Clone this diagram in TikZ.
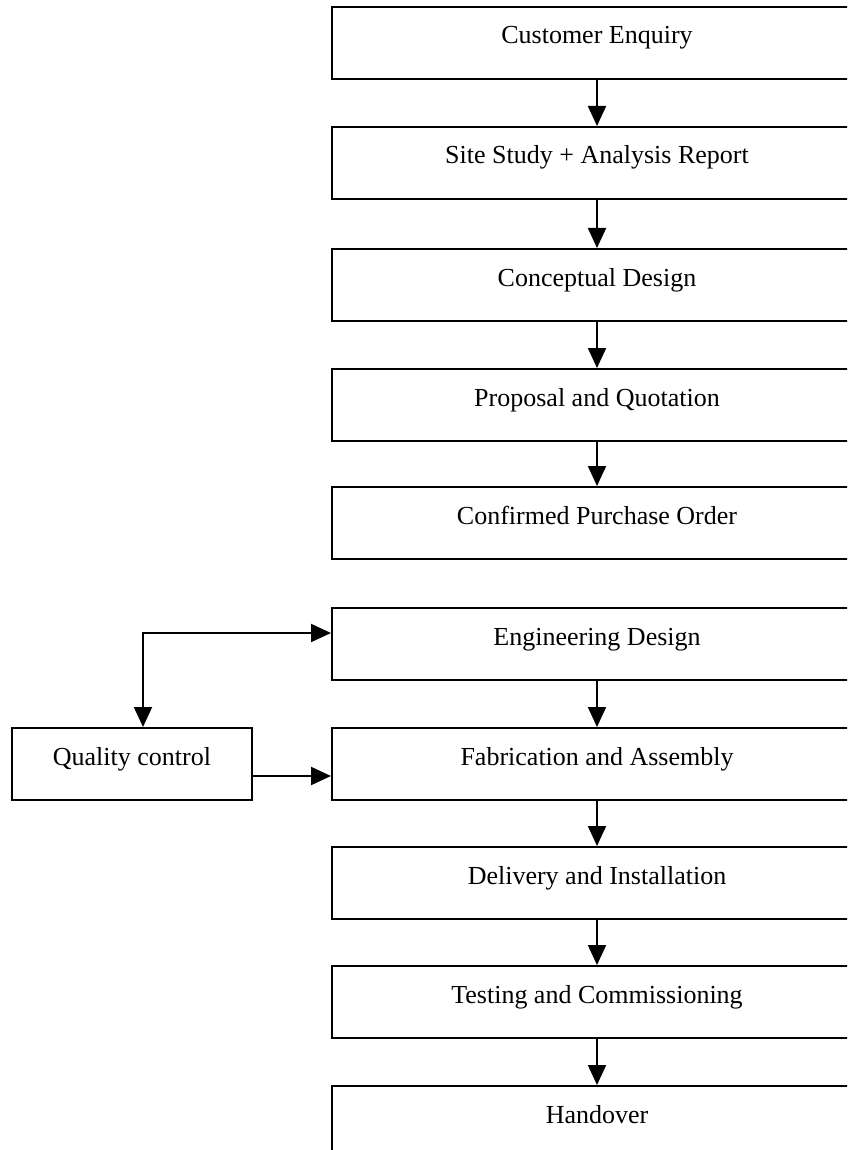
\documentclass[tikz,border=0pt]{standalone}
\usepackage{fontspec}
\setmainfont{Liberation Serif}
\usetikzlibrary{arrows.meta}
\tikzset{
  stepbox/.style={draw, line width=1pt, rectangle, minimum width=265pt, minimum height=36pt,
    inner sep=0pt, text height=9pt, text depth=8pt, font=\fontsize{13}{15}\selectfont},
  link/.style={line width=1pt, -{Triangle[length=10pt,width=9pt]}}
}
\begin{document}
\begin{tikzpicture}[x=0.5pt, y=-0.5pt]
                \useasboundingbox (0,0) rectangle (847,1150);
                \clip (0,0) rectangle (847,1150);
                % Process steps
                \foreach \n/\y/\t in {cust/43/Customer Enquiry, site/163/Site Study + Analysis Report,
                    concept/285/Conceptual Design, quote/405/Proposal and Quotation,
                    order/523/Confirmed Purchase Order, eng/644/Engineering Design,
                    fab/764/Fabrication and Assembly, deliv/883/Delivery and Installation,
                    test/1002/Testing and Commissioning, hand/1122/Handover}
                    \node[stepbox] (\n) at (597,\y) {\t};
                % Side box
                \node[stepbox, minimum width=120pt] (qc) at (132,764) {Quality control};
                % Main flow
                \foreach \a/\b in {cust/site, site/concept, concept/quote, quote/order,
                    eng/fab, fab/deliv, deliv/test, test/hand}
                    \draw[link] (\a.south) -- (\b.north);
                % Quality loop
                \draw[link, {Triangle[length=10pt,width=9pt]}-{Triangle[length=10pt,width=9pt]}]
                    ([xshift=5.5pt]qc.north) |- ([yshift=5.5pt]eng.west);
                \draw[link] ([yshift=-6pt]qc.east) -- ([yshift=-6pt]fab.west);
            \end{tikzpicture}
\end{document}
